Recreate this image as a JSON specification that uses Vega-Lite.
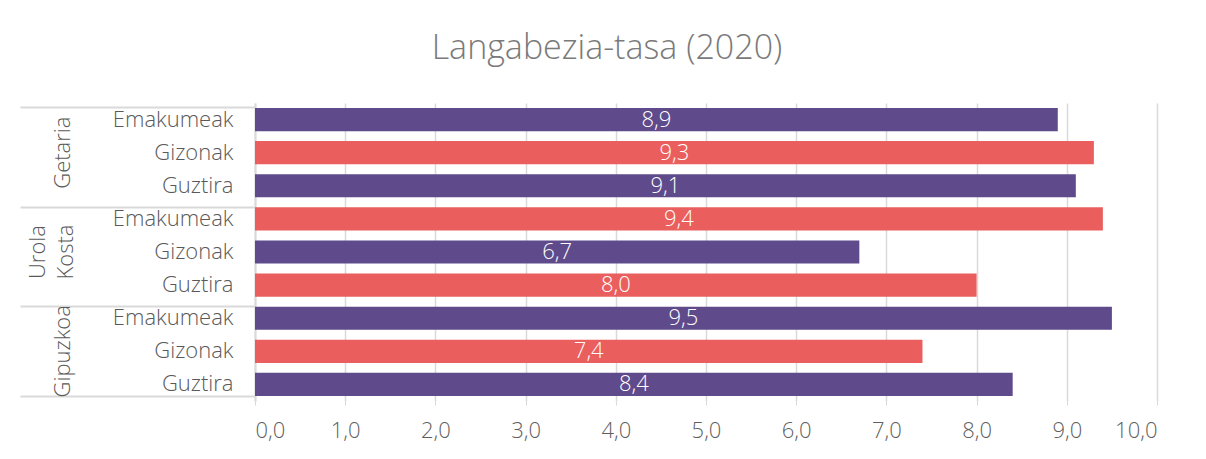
{
  "$schema": "https://vega.github.io/schema/vega-lite/v6.json",
  "autosize": "none",
  "width": 902,
  "height": 298,
  "padding": {"left": 255, "top": 103, "right": 49, "bottom": 58},
  "background": "white",
  "config": {
    "locale": {"number": {"decimal": ",", "thousands": ".", "grouping": [3], "currency": ["", " €"]}},
    "font": "Open Sans",
    "view": {"stroke": null}
  },
  "title": {
    "text": "Langabezia-tasa (2020)",
    "fontSize": 34,
    "fontWeight": 300,
    "font": "Open Sans",
    "color": "#7a7a7a",
    "anchor": "middle",
    "baseline": "alphabetic",
    "offset": 10,
    "dx": -99
  },
  "data": {
    "values": [
      {"group": "Getaria", "cat": "Emakumeak", "value": 8.9},
      {"group": "Getaria", "cat": "Gizonak", "value": 9.3},
      {"group": "Getaria", "cat": "Guztira", "value": 9.1},
      {"group": "Urola Kosta", "cat": "Emakumeak", "value": 9.4},
      {"group": "Urola Kosta", "cat": "Gizonak", "value": 6.7},
      {"group": "Urola Kosta", "cat": "Guztira", "value": 8.0},
      {"group": "Gipuzkoa", "cat": "Emakumeak", "value": 9.5},
      {"group": "Gipuzkoa", "cat": "Gizonak", "value": 7.4},
      {"group": "Gipuzkoa", "cat": "Guztira", "value": 8.4}
    ]
  },
  "transform": [
    {"window": [{"op": "row_number", "as": "rn"}]},
    {"calculate": "datum.group + '|' + datum.cat", "as": "key"},
    {"calculate": "datum.value / 2", "as": "mid"}
  ],
  "layer": [
    {
      "mark": {"type": "bar"},
      "encoding": {
        "x": {
          "field": "value",
          "type": "quantitative",
          "scale": {"domain": [0, 10], "nice": false},
          "axis": {
            "title": null,
            "format": ".1f",
            "values": [0,1,2,3,4,5,6,7,8,9,10],
            "domain": false,
            "grid": true,
            "gridColor": "#d9d9d9",
            "gridWidth": 1.5,
            "tickColor": "#d9d9d9",
            "tickSize": 4,
            "labelPadding": 15,
            "labelFontSize": 22,
            "labelFont": "Open Sans",
            "labelFontWeight": 300,
            "labelColor": "#5f5f5f",
            "labelBaseline": "top"
          }
        },
        "y": {
          "field": "key",
          "type": "nominal",
          "sort": null,
          "scale": {"paddingInner": 0.3},
          "axis": {
            "title": null,
            "orient": "left",
            "labelExpr": "split(datum.value, '|')[1]",
            "domain": true,
            "domainColor": "#d9d9d9",
            "domainWidth": 2,
            "ticks": true,
            "bandPosition": 0,
            "tickSize": 235,
            "tickWidth": 2,
            "tickColor": {"condition": {"test": "datum.value == 'Getaria|Emakumeak' || datum.value == 'Urola Kosta|Emakumeak' || datum.value == 'Gipuzkoa|Emakumeak'", "value": "#d9d9d9"}, "value": "transparent"},
            "labelPadding": -213,
            "labelFontSize": 22,
            "labelFont": "Open Sans",
            "labelFontWeight": 300,
            "labelColor": "#595959",
            "labelAlign": "right",
            "labelBaseline": "middle",
            "grid": false
          }
        },
        "color": {
          "condition": {"test": "datum.rn % 2 == 1", "value": "#5f4a8b"},
          "value": "#ea5e5e"
        }
      }
    },
    {
      "mark": {"type": "text", "color": "white", "fontSize": 22, "fontWeight": 300, "font": "Open Sans", "baseline": "middle", "align": "center"},
      "encoding": {
        "x": {"field": "mid", "type": "quantitative"},
        "y": {
          "field": "key",
          "type": "nominal",
          "sort": null,
          "axis": {
            "title": null,
            "orient": "left",
            "offset": 235,
            "domain": false,
            "ticks": true,
            "bandPosition": 1,
            "tickSize": -235,
            "tickWidth": 2,
            "tickColor": {"condition": {"test": "datum.value == 'Gipuzkoa|Guztira'", "value": "#d9d9d9"}, "value": "transparent"},
            "labelExpr": "datum.value == 'Getaria|Gizonak' ? 'Getaria' : datum.value == 'Urola Kosta|Gizonak' ? ['Urola', 'Kosta'] : datum.value == 'Gipuzkoa|Gizonak' ? 'Gipuzkoa' : ''",
            "labelAngle": -90,
            "labelAlign": "center",
            "labelBaseline": "bottom",
            "labelPadding": {"condition": {"test": "datum.value == 'Urola Kosta|Gizonak'", "value": 206}, "value": 181},
            "labelFontSize": 22,
            "labelFont": "Open Sans",
            "labelFontWeight": 300,
            "labelColor": "#595959",
            "labelLineHeight": 28,
            "grid": false
          }
        },
        "text": {"field": "value", "type": "quantitative", "format": ".1f"}
      }
    }
  ],
  "resolve": {"axis": {"y": "independent"}}
}
